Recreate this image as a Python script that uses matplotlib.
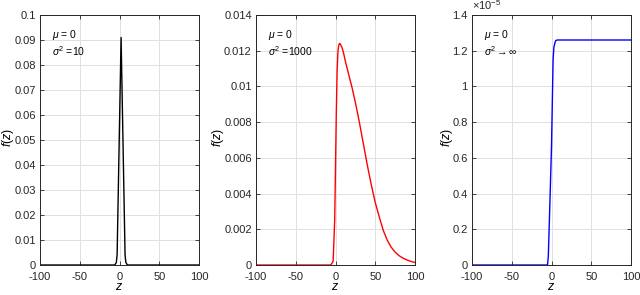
import numpy as np
import matplotlib.pyplot as plt

plt.rcParams['font.family'] = ['Liberation Sans', 'DejaVu Sans']
plt.rcParams['mathtext.fontset'] = 'custom'
plt.rcParams['mathtext.rm'] = 'Liberation Sans'
plt.rcParams['mathtext.it'] = 'Liberation Sans:italic'
plt.rcParams['axes.unicode_minus'] = False

# panel 1: sigma^2 = 10
z1 = [-100, -6, -4, -3, 2, 7, 8, 10, 100]
f1 = [0, 0, 0.001, 0.004, 0.091, 0.004, 0.001, 0, 0]

# panel 2: sigma^2 = 1000
z2 = [-100, -6, -3, -1, 0, 1, 2, 3, 4, 5, 6, 8, 10, 13, 17, 21, 25, 30, 35,
      40, 45, 50, 55, 60, 65, 70, 75, 80, 85, 90, 95, 100]
f2 = [0, 0, 0.0002, 0.0025, 0.0055, 0.0085, 0.0108, 0.0119, 0.0123, 0.0124,
      0.01238, 0.0122, 0.0119, 0.0113, 0.0106, 0.0099, 0.0091, 0.0080, 0.0068,
      0.0056, 0.0045, 0.0035, 0.0027, 0.00195, 0.0014, 0.0010, 0.00072,
      0.00052, 0.00038, 0.00028, 0.0002, 0.00014]

# panel 3: sigma^2 -> inf (values in 1e-5)
z3 = [-100, -5, -4, -2, 0, 2, 3, 5, 7, 100]
f3 = [0, 0, 0.05, 0.35, 0.66, 1.15, 1.22, 1.255, 1.26, 1.26]

panels = [
    (z1, f1, 'black', 0.1, 0.01, ['$\\mu$ = 0', '$\\sigma^2$ =10']),
    (z2, f2, 'red', 0.014, 0.002, ['$\\mu$ = 0', '$\\sigma^2$ =1000']),
    (z3, f3, 'blue', 1.4, 0.2, ['$\\mu$ = 0', '$\\sigma^2\\rightarrow\\infty$']),
]

fig = plt.figure(figsize=(6.4, 2.95), dpi=100)
lefts = [40, 256, 472]
ylab_x = [-0.15, -0.19, -0.106]
for i, (z, f, col, ymax, step, notes) in enumerate(panels):
    ax = fig.add_axes([lefts[i] / 640, 30 / 295, 159 / 640, 250 / 295])
    ax.plot(z, f, color=col, lw=1.0)
    ax.set_xlim(-100, 100)
    ax.set_ylim(0, ymax)
    ax.set_xticks([-100, -50, 0, 50, 100])
    ax.set_yticks(np.arange(0, ymax + step / 2, step))
    if i == 2:
        ax.set_yticklabels(['0', '0.2', '0.4', '0.6', '0.8', '1', '1.2', '1.4'])
        ax.text(0, 1.01, '$\\times$10$^{-5}$', transform=ax.transAxes,
                fontsize=8, color='#262626', va='bottom', ha='left')
    else:
        ax.yaxis.set_major_formatter(plt.FuncFormatter(lambda v, p: f'{v:g}'))
    ax.grid(True, color='#e0e0e0', lw=0.7)
    ax.set_axisbelow(True)
    for s in ax.spines.values():
        s.set_color('#262626')
        s.set_linewidth(0.7)
    ax.tick_params(direction='in', length=3, width=0.6, labelsize=8,
                   colors='#262626', top=True, right=True, pad=3)
    ax.tick_params(axis='x', pad=5)
    ax.set_xlabel('$z$', fontsize=9)
    ax.set_ylabel('$f(z)$', fontsize=9)
    ax.xaxis.set_label_coords(0.5, -0.065)
    ax.yaxis.set_label_coords(ylab_x[i], 0.51)
    ax.text(0.075, 0.92, notes[0], transform=ax.transAxes, fontsize=7.5, va='center')
    ax.text(0.075, 0.855, notes[1], transform=ax.transAxes, fontsize=7.5, va='center')

fig.savefig('out.png', dpi=100)
